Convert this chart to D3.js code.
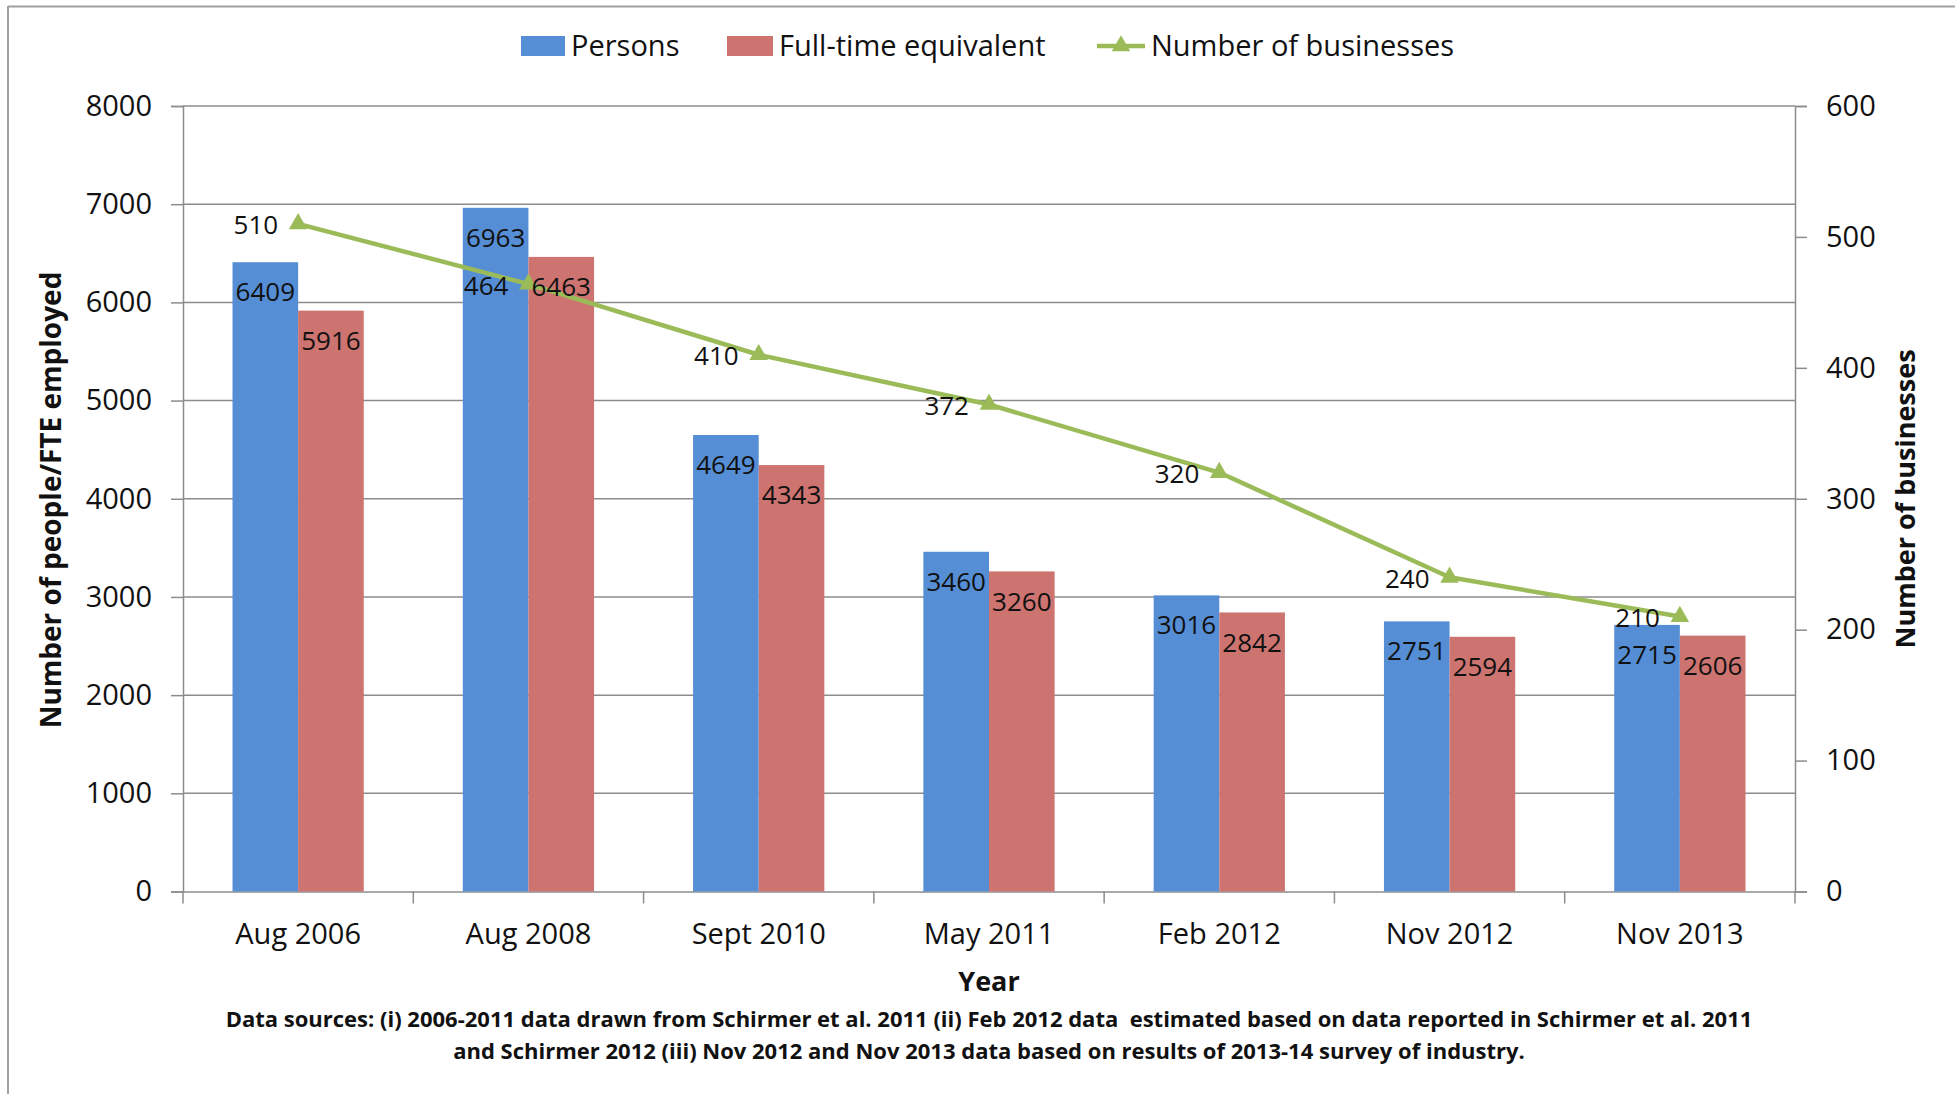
<!DOCTYPE html>
<html>
<head>
<meta charset="utf-8">
<script src="https://cdn.jsdelivr.net/npm/d3@7"></script>
<style>
  html, body { margin: 0; padding: 0; background: #fff; }
  svg { display: block; font-family: "Open Sans", "DejaVu Sans", sans-serif; }
</style>
</head>
<body>
<svg id="chart" width="1955" height="1094"></svg>
<script>
// Survey periods
const periods = ["Aug 2006", "Aug 2008", "Sept 2010", "May 2011", "Feb 2012", "Nov 2012", "Nov 2013"];
// People employed (persons) and full-time equivalent
const persons = [6409, 6963, 4649, 3460, 3016, 2751, 2715];
const fte = [5916, 6463, 4343, 3260, 2842, 2594, 2606];
// Number of businesses (right axis)
const businesses = [510, 464, 410, 372, 320, 240, 210];
// Axis ticks
const leftTicks = [0, 1000, 2000, 3000, 4000, 5000, 6000, 7000, 8000];
const rightTicks = [0, 100, 200, 300, 400, 500, 600];
// Footnote lines
const footnote = [
  "Data sources: (i) 2006-2011 data drawn from Schirmer et al. 2011 (ii) Feb 2012 data  estimated based on data reported in Schirmer et al. 2011",
  "and Schirmer 2012 (iii) Nov 2012 and Nov 2013 data based on results of 2013-14 survey of industry."
];

const C_BLUE = "#558ED5", C_RED = "#CD7370", C_GREEN = "#9BBB59", C_GRID = "#8c8c8c";

const svg = d3.select("#chart");
const plot = { left: 183, right: 1795, top: 106, bottom: 891.5 };

// outer frame (top and left edges visible)
svg.append("line").attr("x1", 8).attr("x2", 1955).attr("y1", 6.5).attr("y2", 6.5)
  .attr("stroke", "#a0a0a0").attr("stroke-width", 2);
svg.append("line").attr("x1", 8).attr("x2", 8).attr("y1", 6).attr("y2", 1094)
  .attr("stroke", "#a0a0a0").attr("stroke-width", 2);

const x = d3.scaleBand().domain(periods).range([plot.left, plot.right])
  .paddingInner(0.43).paddingOuter(0.215);
const xSub = d3.scaleBand().domain(["p", "f"]).range([0, x.bandwidth()]);
const yL = d3.scaleLinear().domain([0, 8000]).range([plot.bottom, plot.top]);
const yR = d3.scaleLinear().domain([0, 600]).range([plot.bottom, plot.top]);

// horizontal gridlines
svg.append("g").selectAll("line").data(leftTicks.filter(d => d > 0)).join("line")
  .attr("x1", plot.left).attr("x2", plot.right)
  .attr("y1", d => yL(d)).attr("y2", d => yL(d))
  .attr("stroke", C_GRID).attr("stroke-width", 1.5);

// left axis
const gL = svg.append("g").attr("transform", `translate(${plot.left},0)`)
  .call(d3.axisLeft(yL).tickValues(leftTicks).tickSize(12).tickPadding(19).tickFormat(d3.format("d")));
gL.select(".domain").attr("stroke", C_GRID).attr("stroke-width", 1.5);
gL.selectAll(".tick line").attr("stroke", C_GRID).attr("stroke-width", 1.5);
gL.selectAll("text").attr("font-size", 29).attr("fill", "#111").attr("font-family", "Open Sans");

// right axis
const gR = svg.append("g").attr("transform", `translate(${plot.right},0)`)
  .call(d3.axisRight(yR).tickValues(rightTicks).tickSize(12).tickPadding(19).tickFormat(d3.format("d")));
gR.select(".domain").attr("stroke", C_GRID).attr("stroke-width", 1.5);
gR.selectAll(".tick line").attr("stroke", C_GRID).attr("stroke-width", 1.5);
gR.selectAll("text").attr("font-size", 29).attr("fill", "#111").attr("font-family", "Open Sans");

// bottom axis: labels at band centres, tick marks between categories
const gB = svg.append("g").attr("transform", `translate(0,${plot.bottom})`)
  .call(d3.axisBottom(x).tickSize(0).tickPadding(32));
gB.select(".domain").attr("stroke", C_GRID).attr("stroke-width", 1.5);
gB.selectAll("text").attr("font-size", 29).attr("fill", "#111").attr("font-family", "Open Sans");
const halfGap = (x.step() - x.bandwidth()) / 2;
const bounds = periods.map(p => x(p) - halfGap).concat([x(periods[periods.length - 1]) + x.bandwidth() + halfGap]);
gB.selectAll(".bnd").data(bounds).join("line").attr("class", "bnd")
  .attr("x1", d => d).attr("x2", d => d).attr("y1", 0).attr("y2", 12)
  .attr("stroke", C_GRID).attr("stroke-width", 1.5);

// bars
const rows = periods.map((p, i) => ({ p, persons: persons[i], fte: fte[i], biz: businesses[i] }));
const bars = svg.append("g");
bars.selectAll(".bp").data(rows).join("rect").attr("class", "bp")
  .attr("x", d => x(d.p) + xSub("p")).attr("width", xSub.bandwidth())
  .attr("y", d => yL(d.persons)).attr("height", d => plot.bottom - yL(d.persons))
  .attr("fill", C_BLUE);
bars.selectAll(".bf").data(rows).join("rect").attr("class", "bf")
  .attr("x", d => x(d.p) + xSub("f")).attr("width", xSub.bandwidth())
  .attr("y", d => yL(d.fte)).attr("height", d => plot.bottom - yL(d.fte))
  .attr("fill", C_RED);

// businesses line
const cx = d => x(d.p) + x.bandwidth() / 2;
svg.append("path").datum(rows)
  .attr("d", d3.line().x(cx).y(d => yR(d.biz)))
  .attr("fill", "none").attr("stroke", C_GREEN).attr("stroke-width", 4.5).attr("stroke-linejoin", "round");
const tri = d3.symbol().type(d3.symbolTriangle).size(150);
svg.append("g").selectAll("path").data(rows).join("path")
  .attr("transform", d => `translate(${cx(d)},${yR(d.biz)})`)
  .attr("d", tri).attr("fill", C_GREEN);

// bar value labels (inside top)
const lbl = svg.append("g").attr("font-size", 26).attr("fill", "#111").attr("text-anchor", "middle");
lbl.selectAll(".lp").data(rows).join("text").attr("class", "lp")
  .attr("x", d => x(d.p) + xSub("p") + xSub.bandwidth() / 2)
  .attr("y", d => yL(d.persons) + 30).attr("dy", "0.35em")
  .text(d => d.persons);
lbl.selectAll(".lf").data(rows).join("text").attr("class", "lf")
  .attr("x", d => x(d.p) + xSub("f") + xSub.bandwidth() / 2)
  .attr("y", d => yL(d.fte) + 30).attr("dy", "0.35em")
  .text(d => d.fte);
// line value labels (left of markers)
lbl.selectAll(".lb").data(rows).join("text").attr("class", "lb")
  .attr("text-anchor", "end")
  .attr("x", d => cx(d) - 20).attr("y", d => yR(d.biz) + 1.5).attr("dy", "0.35em")
  .text(d => d.biz);

// axis titles
svg.append("text").attr("transform", "translate(51,500) rotate(-90)")
  .attr("text-anchor", "middle").attr("dy", "0.35em")
  .attr("font-size", 28).attr("font-weight", "bold").attr("fill", "#111")
  .text("Number of people/FTE employed");
svg.append("text").attr("transform", "translate(1906,499) rotate(-90)")
  .attr("text-anchor", "middle").attr("dy", "0.35em")
  .attr("font-size", 27).attr("font-weight", "bold").attr("fill", "#111")
  .text("Number of businesses");
svg.append("text").attr("x", 989).attr("y", 982).attr("dy", "0.35em")
  .attr("text-anchor", "middle").attr("font-size", 27).attr("font-weight", "bold").attr("fill", "#111")
  .text("Year");

// footnote
svg.append("g").selectAll("text").data(footnote).join("text")
  .attr("x", 989).attr("y", (d, i) => 1019 + i * 32).attr("dy", "0.35em")
  .attr("text-anchor", "middle").attr("font-size", 22).attr("font-weight", "bold").attr("fill", "#111")
  .attr("xml:space", "preserve").style("white-space", "pre")
  .text(d => d);

// legend
const legend = svg.append("g").attr("font-size", 29).attr("fill", "#111");
const legY = 46;
legend.append("rect").attr("x", 521).attr("y", legY - 10).attr("width", 44).attr("height", 20).attr("fill", C_BLUE);
legend.append("text").attr("x", 571).attr("y", legY).attr("dy", "0.35em").text("Persons");
legend.append("rect").attr("x", 727).attr("y", legY - 10).attr("width", 46).attr("height", 20).attr("fill", C_RED);
legend.append("text").attr("x", 779).attr("y", legY).attr("dy", "0.35em").text("Full-time equivalent");
legend.append("line").attr("x1", 1097).attr("x2", 1145).attr("y1", legY).attr("y2", legY)
  .attr("stroke", C_GREEN).attr("stroke-width", 4.5);
legend.append("path").attr("transform", `translate(1121,${legY})`).attr("d", tri).attr("fill", C_GREEN);
legend.append("text").attr("x", 1151).attr("y", legY).attr("dy", "0.35em").text("Number of businesses");
</script>
</body>
</html>
